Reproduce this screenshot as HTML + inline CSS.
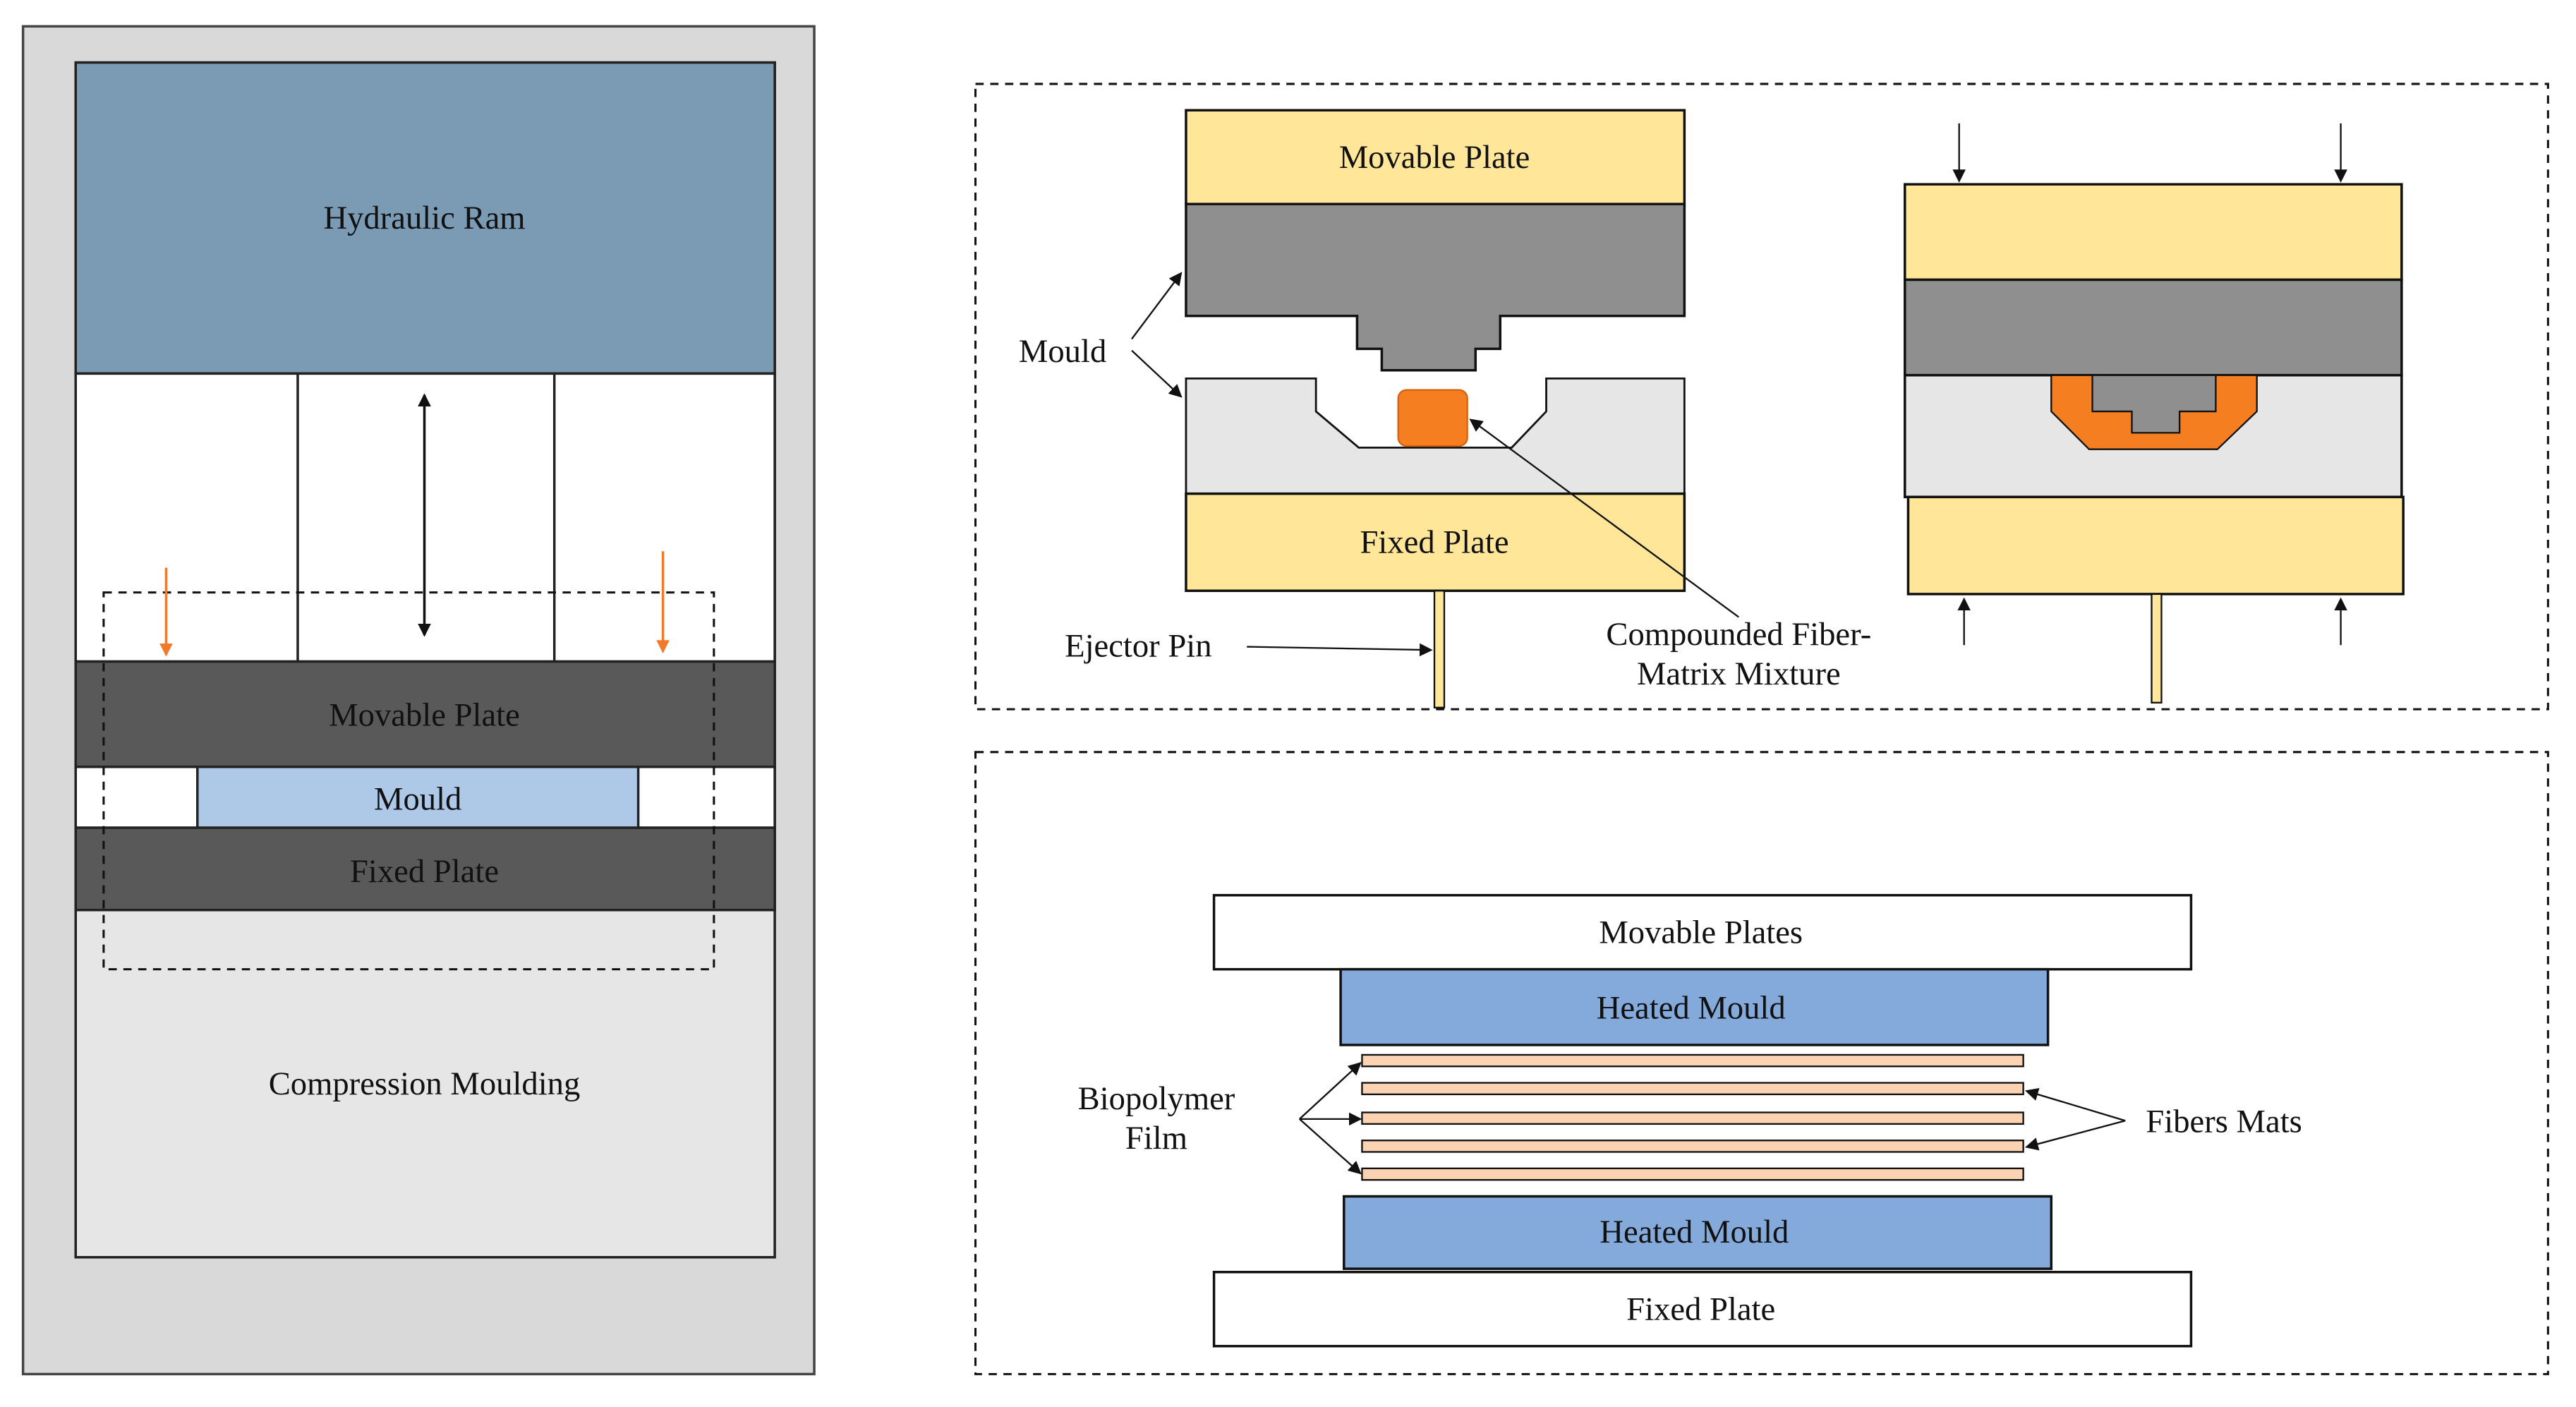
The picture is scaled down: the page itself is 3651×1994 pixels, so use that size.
<!DOCTYPE html>
<html><head><meta charset="utf-8"><style>
html,body{margin:0;padding:0;background:#fff}
svg{display:block}
text{font-family:"Liberation Serif",serif;font-size:20px;fill:#111;text-anchor:middle}
</style></head><body>
<svg width="3651" height="1994" viewBox="0 0 1566 855" preserveAspectRatio="none" xmlns="http://www.w3.org/2000/svg">
<defs>
<marker id="ah" markerWidth="8" markerHeight="8" refX="7" refY="4" orient="auto-start-reverse" markerUnits="userSpaceOnUse"><path d="M0,0 L8,4 L0,8 z" fill="#111"/></marker>
<marker id="ao" markerWidth="8" markerHeight="8" refX="7" refY="4" orient="auto" markerUnits="userSpaceOnUse"><path d="M0,0 L8,4 L0,8 z" fill="#f07a2a"/></marker>
</defs>
<!-- Left panel -->
<rect x="14" y="16" width="481" height="819" fill="#d9d9d9" stroke="#444" stroke-width="1.5"/>
<rect x="46" y="38" width="425" height="726" fill="#e6e6e6" stroke="#222" stroke-width="1.5"/>
<rect x="46" y="38" width="425" height="189" fill="#7b9bb5" stroke="#222" stroke-width="1.5"/>
<text x="258" y="139">Hydraulic Ram</text>
<rect x="46" y="227" width="425" height="175" fill="#fff" stroke="#222" stroke-width="1.5"/>
<line x1="181" y1="227" x2="181" y2="402" stroke="#222" stroke-width="1.5"/>
<line x1="337" y1="227" x2="337" y2="402" stroke="#222" stroke-width="1.5"/>
<line x1="258" y1="240" x2="258" y2="386" stroke="#111" stroke-width="1.5" marker-end="url(#ah)" marker-start="url(#ah)"/>
<rect x="46" y="402" width="425" height="64" fill="#595959" stroke="#222" stroke-width="1.5"/>
<text x="258" y="441">Movable Plate</text>
<rect x="46" y="466" width="425" height="37" fill="#fff" stroke="#222" stroke-width="1.5"/>
<rect x="120" y="466" width="268" height="37" fill="#aec9e8" stroke="#222" stroke-width="1.5"/>
<text x="254" y="492">Mould</text>
<rect x="46" y="503" width="425" height="50" fill="#595959" stroke="#222" stroke-width="1.5"/>
<text x="258" y="536">Fixed Plate</text>
<text x="258" y="665">Compression Moulding</text>
<rect x="63" y="360" width="371" height="229" fill="none" stroke="#111" stroke-width="1.3" stroke-dasharray="5,4"/>
<line x1="101" y1="345" x2="101" y2="398" stroke="#f07a2a" stroke-width="1.5" marker-end="url(#ao)"/>
<line x1="403" y1="335" x2="403" y2="396" stroke="#f07a2a" stroke-width="1.5" marker-end="url(#ao)"/>

<!-- Top right -->
<rect x="593" y="51" width="956" height="380" fill="none" stroke="#111" stroke-width="1.3" stroke-dasharray="5,4"/>
<rect x="721" y="67" width="303" height="57" fill="#ffe699" stroke="#111" stroke-width="1.5"/>
<text x="872" y="102">Movable Plate</text>
<polygon points="721,124 1024,124 1024,192 912,192 912,212 897,212 897,225 840,225 840,212 825,212 825,192 721,192" fill="#8f8f8f" stroke="#111" stroke-width="1.5"/>
<polygon points="721,230 800,230 800,250 826,272 919,272 940,250 940,230 1024,230 1024,300 721,300" fill="#e6e6e6" stroke="#111" stroke-width="1.2"/>
<rect x="850" y="237" width="42" height="34" rx="5" fill="#f57f20" stroke="#d86010"/>
<rect x="721" y="300" width="303" height="59" fill="#ffe699" stroke="#111" stroke-width="1.5"/>
<text x="872" y="336">Fixed Plate</text>
<rect x="872" y="359" width="6" height="71" fill="#ffe699" stroke="#111"/>
<text x="646" y="220">Mould</text>
<line x1="688" y1="206" x2="718" y2="166" stroke="#111" marker-end="url(#ah)"/>
<line x1="688" y1="213" x2="718" y2="241" stroke="#111" marker-end="url(#ah)"/>
<text x="692" y="399">Ejector Pin</text>
<line x1="758" y1="393" x2="870" y2="395" stroke="#111" marker-end="url(#ah)"/>
<text x="1057" y="392">Compounded Fiber-</text>
<text x="1057" y="416">Matrix Mixture</text>
<line x1="1057" y1="375" x2="894" y2="255" stroke="#111" marker-end="url(#ah)"/>
<rect x="1158" y="112" width="302" height="58" fill="#ffe699" stroke="#111" stroke-width="1.5"/>
<rect x="1158" y="170" width="302" height="58" fill="#8f8f8f" stroke="#111" stroke-width="1.5"/>
<rect x="1158" y="228" width="302" height="74" fill="#e6e6e6" stroke="#111" stroke-width="1.5"/>
<polygon points="1247,228 1372,228 1372,250 1348,273 1270,273 1247,250" fill="#f57f20" stroke="#111"/>
<polygon points="1272,228 1347,228 1347,250 1325,250 1325,263 1296,263 1296,250 1272,250" fill="#8f8f8f" stroke="#111"/>
<rect x="1160" y="302" width="301" height="59" fill="#ffe699" stroke="#111" stroke-width="1.5"/>
<rect x="1308" y="361" width="6" height="66" fill="#ffe699" stroke="#111"/>
<line x1="1191" y1="75" x2="1191" y2="110" stroke="#111" marker-end="url(#ah)"/>
<line x1="1423" y1="75" x2="1423" y2="110" stroke="#111" marker-end="url(#ah)"/>
<line x1="1194" y1="392" x2="1194" y2="364" stroke="#111" marker-end="url(#ah)"/>
<line x1="1423" y1="392" x2="1423" y2="364" stroke="#111" marker-end="url(#ah)"/>

<!-- Bottom right -->
<rect x="593" y="457" width="956" height="378" fill="none" stroke="#111" stroke-width="1.3" stroke-dasharray="5,4"/>
<rect x="738" y="544" width="594" height="45" fill="#fff" stroke="#111" stroke-width="1.5"/>
<text x="1034" y="573">Movable Plates</text>
<rect x="815" y="589" width="430" height="46" fill="#84aadc" stroke="#111" stroke-width="1.5"/>
<text x="1028" y="619">Heated Mould</text>
<rect x="828" y="641" width="402" height="7" fill="#fbd3b3" stroke="#111"/>
<rect x="828" y="658" width="402" height="7" fill="#fbd3b3" stroke="#111"/>
<rect x="828" y="676" width="402" height="7" fill="#fbd3b3" stroke="#111"/>
<rect x="828" y="693" width="402" height="7" fill="#fbd3b3" stroke="#111"/>
<rect x="828" y="710" width="402" height="7" fill="#fbd3b3" stroke="#111"/>
<rect x="817" y="727" width="430" height="44" fill="#84aadc" stroke="#111" stroke-width="1.5"/>
<text x="1030" y="755">Heated Mould</text>
<rect x="738" y="773" width="594" height="45" fill="#fff" stroke="#111" stroke-width="1.5"/>
<text x="1034" y="802">Fixed Plate</text>
<text x="703" y="674">Biopolymer</text>
<text x="703" y="698">Film</text>
<line x1="790" y1="680" x2="827" y2="646" stroke="#111" marker-end="url(#ah)"/>
<line x1="790" y1="680" x2="827" y2="680" stroke="#111" marker-end="url(#ah)"/>
<line x1="790" y1="680" x2="827" y2="713" stroke="#111" marker-end="url(#ah)"/>
<text x="1352" y="688">Fibers Mats</text>
<line x1="1292" y1="681" x2="1232" y2="663" stroke="#111" marker-end="url(#ah)"/>
<line x1="1292" y1="681" x2="1232" y2="697" stroke="#111" marker-end="url(#ah)"/>
</svg>
</body></html>
